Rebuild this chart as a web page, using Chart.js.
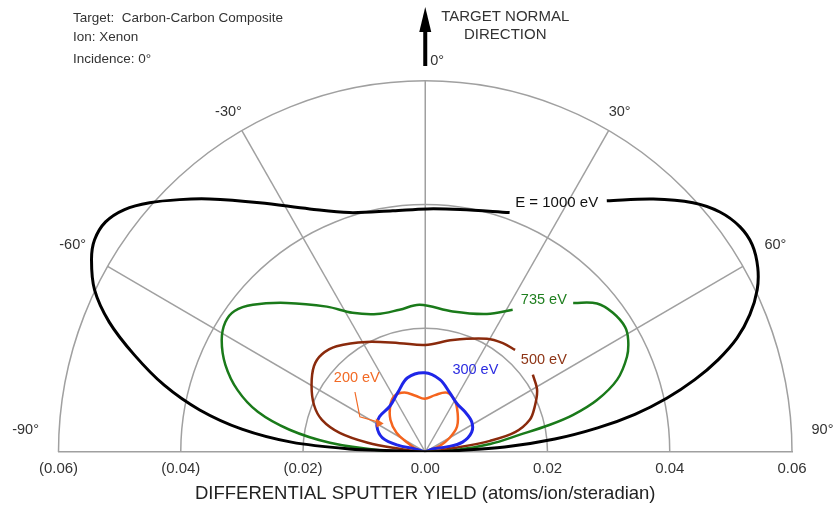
<!DOCTYPE html>
<html>
<head>
<meta charset="utf-8">
<script src="https://cdn.jsdelivr.net/npm/chart.js@4"></script>
<style>
  html, body { margin: 0; padding: 0; background: #fff; }
  canvas { display: block; }
</style>
</head>
<body>
<canvas id="sputterChart" width="837" height="508"></canvas>
<script>
// Xe on carbon-carbon composite, differential sputter yield (atoms/ion/steradian)
// every curve is kept as x (sideways) and y (along target normal) components
const e1000X = [0.0297, 0.0373, 0.0438, 0.0482, 0.0515, 0.0535, 0.0544, 0.0543, 0.0531, 0.0510, 0.0479, 0.0441, 0.0395, 0.0343, 0.0282, 0.0212, 0.0130, 0.0048, 0,
  -0.0050, -0.0124, -0.0219, -0.0300, -0.0369, -0.0427, -0.0476, -0.0517, -0.0541, -0.0546, -0.0541, -0.0523, -0.0492, -0.0451, -0.0402, -0.0353, -0.0271, -0.0189, -0.0124, -0.0053, 0.0003, 0.0057, 0.0138];
const e1000Y = [0.0406, 0.0409, 0.0403, 0.0388, 0.0364, 0.0335, 0.0298, 0.0262, 0.0222, 0.0184, 0.0149, 0.0117, 0.0087, 0.0061, 0.0039, 0.0021, 0.0008, 0.0002, 0,
  0.0002, 0.0005, 0.0016, 0.0037, 0.0068, 0.0108, 0.0157, 0.0210, 0.0262, 0.0311, 0.0343, 0.0372, 0.0392, 0.0403, 0.0408, 0.0409, 0.0403, 0.0393, 0.0387, 0.0390, 0.0393, 0.0392, 0.0387];

const e735X = [0.0242, 0.0281, 0.0307, 0.0327, 0.0332, 0.0330, 0.0314, 0.0281, 0.0242, 0.0204, 0.0155, 0.0106, 0.0048, 0,
  -0.0075, -0.0156, -0.0222, -0.0274, -0.0307, -0.0327, -0.0333, -0.0327, -0.0312, -0.0282, -0.0227, -0.0161, -0.0119, -0.0079, -0.0042, -0.0009, 0.0045, 0.0101, 0.0143];
const e735Y = [0.0241, 0.0240, 0.0225, 0.0202, 0.0181, 0.0154, 0.0117, 0.0084, 0.0060, 0.0044, 0.0028, 0.0013, 0.0003, 0,
  0.0003, 0.0015, 0.0036, 0.0065, 0.0100, 0.0141, 0.0181, 0.0210, 0.0228, 0.0238, 0.0241, 0.0235, 0.0225, 0.0223, 0.0230, 0.0238, 0.0227, 0.0223, 0.0230];

const e500X = [0.0176, 0.0183, 0.0179, 0.0171, 0.0147, 0.0106, 0.0057, 0,
  -0.0047, -0.0094, -0.0140, -0.0169, -0.0182, -0.0186, -0.0182, -0.0169, -0.0145, -0.0096, -0.0042, 0, 0.0045, 0.0101, 0.0127, 0.0147];
const e500Y = [0.0125, 0.0100, 0.0073, 0.0052, 0.0032, 0.0018, 0.0008, 0,
  0.0006, 0.0015, 0.0031, 0.0052, 0.0076, 0.0108, 0.0139, 0.0158, 0.0171, 0.0178, 0.0176, 0.0173, 0.0181, 0.0183, 0.0176, 0.0165];

const e300X = [0, 0.0012, 0.0035, 0.0061, 0.0076, 0.0076, 0.0065, 0.0052, 0.0040, 0.0024, -0.0001, -0.0029, -0.0045, -0.0058, -0.0075, -0.0079, -0.0070, -0.0045, -0.0017, 0];
const e300Y = [0, 0.0005, 0.0008, 0.0016, 0.0032, 0.0049, 0.0065, 0.0078, 0.0096, 0.0117, 0.0128, 0.0120, 0.0096, 0.0074, 0.0057, 0.0041, 0.0023, 0.0011, 0.0005, 0];

const e200X = [0, 0.0024, 0.0040, 0.0052, 0.0053, 0.0048, 0.0035, 0.0016, -0.0001, -0.0016, -0.0034, -0.0050, -0.0057, -0.0057, -0.0047, -0.0029, -0.0012, 0];
const e200Y = [0, 0.0010, 0.0023, 0.0041, 0.0063, 0.0084, 0.0096, 0.0092, 0.0086, 0.0091, 0.0096, 0.0091, 0.0076, 0.0052, 0.0031, 0.0015, 0.0003, 0];

const energyLabels = ['E = 1000 eV', '735 eV', '500 eV', '300 eV', '200 eV'];
const yieldTicks = [-0.06, -0.04, -0.02, 0, 0.02, 0.04, 0.06];
const ringValues = [0.02, 0.04, 0.06];
const spokeAngles = [-60, -30, 0, 30, 60];
const angleTicks = [-90, -60, -30, 30, 60, 90];

const FONT = '"Liberation Sans", Arial, sans-serif';

function pts(xs, ys) {
  return xs.map((x, i) => ({ x: x, y: ys[i] }));
}

function line(data, color, width) {
  return {
    data: data,
    showLine: true,
    borderColor: color,
    borderWidth: width,
    pointRadius: 0,
    tension: 0.35,
    fill: false
  };
}

function text(ctx, str, px, py, align, color, size) {
  ctx.font = size + 'px ' + FONT;
  ctx.fillStyle = color;
  ctx.textAlign = align;
  ctx.textBaseline = 'middle';
  ctx.fillText(str, px, py);
}

// rings and spokes of the half polar grid, drawn on the x/y scales
const polarGrid = {
  id: 'polarGrid',
  beforeDatasetsDraw(chart) {
    const { ctx, scales: { x, y } } = chart;
    const cx = x.getPixelForValue(0), cy = y.getPixelForValue(0);
    ctx.save();
    ctx.strokeStyle = '#a0a0a0';
    ctx.lineWidth = 1.5;
    for (const r of ringValues) {
      const rx = x.getPixelForValue(r) - cx;
      const ry = cy - y.getPixelForValue(r);
      ctx.beginPath();
      ctx.ellipse(cx, cy, rx, ry, 0, Math.PI, 2 * Math.PI);
      ctx.stroke();
    }
    const rMax = ringValues[ringValues.length - 1];
    for (const a of spokeAngles) {
      const t = a * Math.PI / 180;
      ctx.beginPath();
      ctx.moveTo(cx, cy);
      ctx.lineTo(x.getPixelForValue(rMax * Math.sin(t)), y.getPixelForValue(rMax * Math.cos(t)));
      ctx.stroke();
    }
    ctx.restore();
  }
};

const annotations = {
  id: 'annotations',
  afterDatasetsDraw(chart) {
    const { ctx, scales: { x, y } } = chart;
    const X = v => x.getPixelForValue(v), Y = v => y.getPixelForValue(v);
    const cx = X(0);
    ctx.save();

    // angle labels
    const angRad = { 30: 0.0300, 60: 0.0555, 90: 0.0632 };
    const angY = { 30: 0.0550, 60: 0.0335, 90: 0.0036 };
    for (const a of angleTicks) {
      const k = Math.abs(a);
      const px = a < 0 ? X(-angRad[k]) : X(angRad[k]);
      text(ctx, a + '\u00b0', px, Y(angY[k]), a < 0 ? 'right' : 'left', '#333', 14.5);
    }

    // header notes
    text(ctx, 'Target:  Carbon-Carbon Composite', 73, 18, 'left', '#333', 13.5);
    text(ctx, 'Ion: Xenon', 73, 37, 'left', '#333', 13.5);
    text(ctx, 'Incidence: 0\u00b0', 73, 59, 'left', '#333', 13.5);

    // target normal arrow
    ctx.fillStyle = '#000';
    ctx.fillRect(cx - 2, 28, 4, 38);
    ctx.beginPath();
    ctx.moveTo(cx, 7);
    ctx.lineTo(cx - 6, 32);
    ctx.lineTo(cx + 6, 32);
    ctx.closePath();
    ctx.fill();
    text(ctx, 'TARGET NORMAL', cx + 80, 17, 'center', '#333', 15);
    text(ctx, 'DIRECTION', cx + 80, 35, 'center', '#333', 15);
    text(ctx, '0\u00b0', cx + 5, 61, 'left', '#333', 14.5);

    // curve labels
    text(ctx, energyLabels[0], X(0.0215), Y(0.0403), 'center', '#111', 15);
    text(ctx, energyLabels[1], X(0.0194), Y(0.0246), 'center', '#1f7f1f', 14.5);
    text(ctx, energyLabels[2], X(0.0194), Y(0.0149), 'center', '#8e3516', 14.5);
    text(ctx, energyLabels[3], X(0.0082), Y(0.0133), 'center', '#2b2be0', 14.5);
    text(ctx, energyLabels[4], X(-0.0112), Y(0.0120), 'center', '#f26a25', 14.5);

    // pointer from the 200 eV label
    ctx.strokeStyle = '#f26a25';
    ctx.fillStyle = '#f26a25';
    ctx.lineWidth = 1.2;
    ctx.beginPath();
    ctx.moveTo(X(-0.0115), Y(0.0097));
    ctx.lineTo(X(-0.0107), Y(0.0057));
    ctx.lineTo(X(-0.0075), Y(0.0048));
    ctx.stroke();
    const hx = X(-0.0068), hy = Y(0.0046);
    ctx.beginPath();
    ctx.moveTo(hx, hy);
    ctx.lineTo(hx - 8, hy - 5);
    ctx.lineTo(hx - 7, hy + 4);
    ctx.closePath();
    ctx.fill();

    ctx.restore();
  }
};

new Chart(document.getElementById('sputterChart'), {
  type: 'scatter',
  data: {
    datasets: [
      line(pts(e1000X, e1000Y), '#000000', 3),
      line(pts(e735X, e735Y), '#1a7a1a', 2.5),
      line(pts(e500X, e500Y), '#8a2a0c', 2.5),
      line(pts(e300X, e300Y), '#1f26e8', 3),
      line(pts(e200X, e200Y), '#f5641e', 2.5)
    ]
  },
  options: {
    responsive: false,
    animation: false,
    layout: { padding: { left: 58.5, right: 45, top: 19, bottom: 4.5 } },
    plugins: {
      legend: { display: false },
      tooltip: { enabled: false }
    },
    scales: {
      x: {
        type: 'linear',
        min: -0.06,
        max: 0.06,
        afterBuildTicks: scale => { scale.ticks = yieldTicks.map(v => ({ value: v })); },
        grid: { display: false, drawTicks: false },
        border: { display: true, color: '#a0a0a0', width: 1.5 },
        ticks: {
          padding: 9,
          color: '#333',
          font: { family: FONT, size: 15, lineHeight: 1 },
          maxRotation: 0,
          callback: v => v < 0 ? '(' + Math.abs(v).toFixed(2) + ')' : Math.abs(v).toFixed(2)
        },
        title: {
          display: true,
          text: 'DIFFERENTIAL SPUTTER YIELD (atoms/ion/steradian)',
          color: '#222',
          font: { family: FONT, size: 18.5, lineHeight: 1 },
          padding: 0
        }
      },
      y: {
        type: 'linear',
        display: false,
        min: 0,
        max: 0.07
      }
    }
  },
  plugins: [polarGrid, annotations]
});
</script>
</body>
</html>
